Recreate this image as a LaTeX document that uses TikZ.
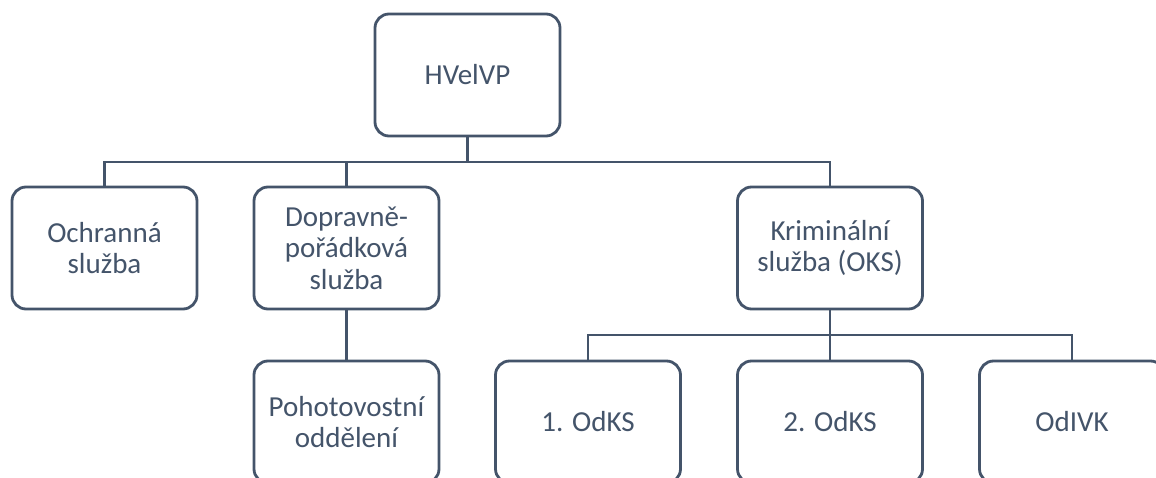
\documentclass[tikz,border=0pt]{standalone}
\usepackage{fontspec}
\setmainfont{Carlito}
\definecolor{slate}{HTML}{44546A}
\begin{document}
\begin{tikzpicture}[x=1pt,y=1pt,
        unit/.style={draw=slate, line width=2.8pt, rounded corners=14pt, fill=white,
            minimum width=185pt, minimum height=122pt, inner sep=0pt, align=center,
            text=slate, font=\fontsize{29}{31.5}\selectfont},
        conn/.style={draw=slate, line width=2.8pt}]
        \useasboundingbox (0,0) rectangle (1156,477);
        \node[unit] (top) at (467.5, 402) {HVelVP};
        \node[unit] (ochr) at (104.5, 229) {Ochranná\\služba};
        \node[unit] (dop) at (346.5, 229) {Dopravně-\\pořádková\\služba};
        \node[unit] (krim) at (830, 229) {Kriminální\\služba (OKS)};
        \node[unit] (poh) at (346.5, 55) {Pohotovostní\\oddělení};
        \node[unit] (odks1) at (588, 55) {1. OdKS};
        \node[unit] (odks2) at (830, 55) {2. OdKS};
        \node[unit] (odivk) at (1072, 55) {OdIVK};

        \coordinate (bus1) at (467.5, 315);
        \coordinate (bus2) at (830, 142);
        \draw[conn] (top) -- (bus1);
        \draw[conn] (ochr.north) |- (bus1) -| (krim.north);
        \draw[conn] (bus1) -| (dop.north);
        \draw[conn] (dop) -- (poh);
        \draw[conn] (krim) -- (bus2);
        \draw[conn] (odks1.north) |- (bus2) -| (odivk.north);
        \draw[conn] (bus2) -- (odks2);
    \end{tikzpicture}
\end{document}
